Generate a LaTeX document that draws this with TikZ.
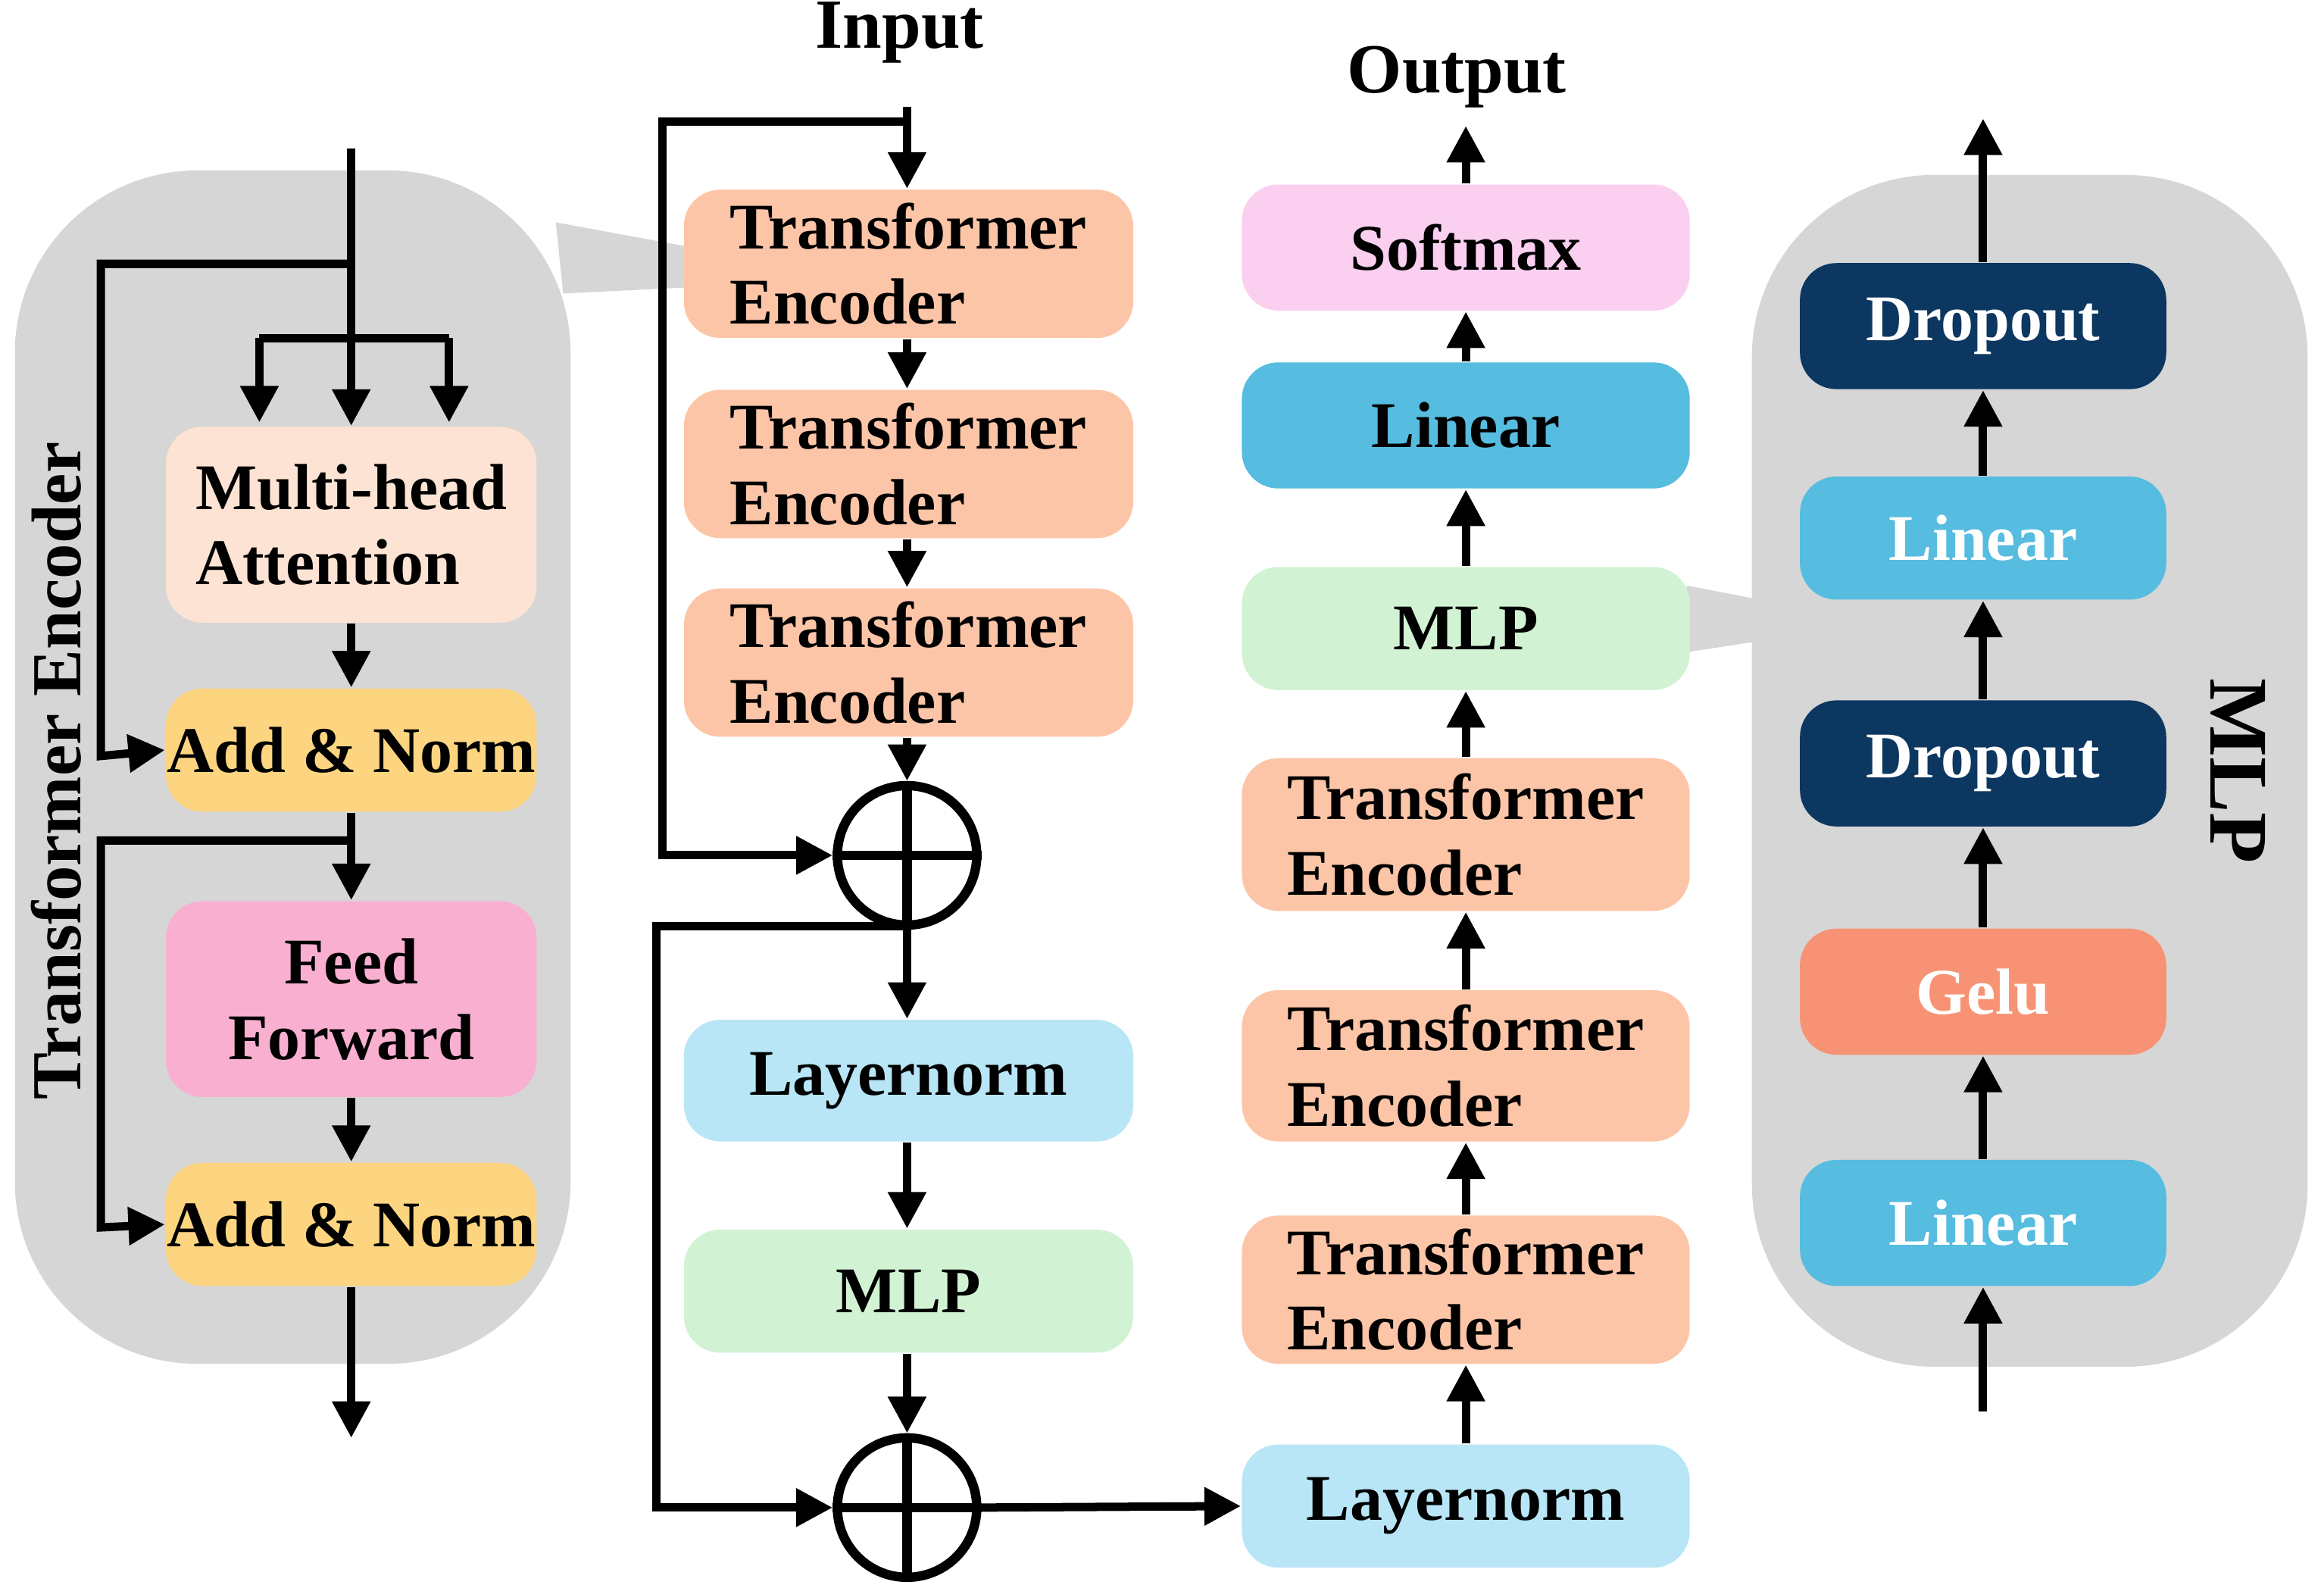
\documentclass[tikz,border=0pt]{standalone}
\usepackage{fontspec}
\setmainfont{Liberation Serif}
\usetikzlibrary{arrows.meta}
\definecolor{panel}{HTML}{D6D6D6}
\definecolor{mha}{HTML}{FDE3D3}
\definecolor{addn}{HTML}{FDD580}
\definecolor{ff}{HTML}{F9B0D0}
\definecolor{te}{HTML}{FDC5A8}
\definecolor{ln}{HTML}{B8E6F6}
\definecolor{mlp}{HTML}{D2F2D4}
\definecolor{lin}{HTML}{56BCE0}
\definecolor{sm}{HTML}{FBCFEF}
\definecolor{drop}{HTML}{0C3761}
\definecolor{gelu}{HTML}{F79374}
\begin{document}
\begin{tikzpicture}[x=0.01cm,y=-0.01cm,
  box/.style={draw=none,rounded corners=7pt,font=\fontsize{12.5}{14.5}\selectfont\bfseries,inner sep=0pt},
  arr/.style={-{Triangle[length=7pt,width=7pt]},line width=1.6pt},
  ln2/.style={line width=1.6pt},
  circ/.style={circle,draw,line width=1.8pt,minimum size=0.94cm,inner sep=0pt}]
\useasboundingbox (0,0) rectangle (1568,1071);
% panels and callouts
\fill[panel] (375,150) -- (462,166) -- (462,194) -- (380,198) -- cycle;
\fill[panel,rounded corners=35pt] (10,115) rectangle (385,920);
\fill[panel] (1138,395) -- (1190,405) -- (1190,432) -- (1138,440) -- cycle;
\fill[panel,rounded corners=35pt] (1182,118) rectangle (1557,922);
% left panel nodes
\def\bx#1#2#3#4#5#6#7{\node[box,fill=#6,minimum width=#3*0.01cm-#1*0.01cm,minimum height=#4*0.01cm-#2*0.01cm,#7] at ({(#1+#3)/2},{(#2+#4)/2}) {#5};}
\node[box,fill=mha,minimum width=2.5cm,minimum height=1.32cm,align=left] (mha) at (237,354) {Multi-head\\Attention};
\node[box,fill=addn,minimum width=2.5cm,minimum height=0.83cm] (an1) at (237,506) {Add \& Norm};
\node[box,fill=ff,minimum width=2.5cm,minimum height=1.32cm,align=center] (ff) at (237,674) {Feed\\Forward};
\node[box,fill=addn,minimum width=2.5cm,minimum height=0.83cm] (an2) at (237,826) {Add \& Norm};
\node[rotate=90,font=\fontsize{13.5}{15}\selectfont\bfseries] (lbl) at (38,520) {Transformer Encoder};
\coordinate (lin0) at (237,100);
\coordinate (lb) at (237,228);
\coordinate (lskip) at (237,178);
\draw[ln2] (lin0) -- (lb);
\draw[ln2] (175,228) -- (303,228);
\draw[arr] (175,228) -- (175,285);
\draw[arr] (lb) -- (mha.north);
\draw[arr] (303,228) -- (303,285);
\draw[arr] (lskip) -- (68,178) -- (68,510) -- (an1.west);
\draw[arr] (mha) -- (an1);
\draw[arr] (an1) -- (ff);
\draw[arr] (237,567) -- (68,567) -- (68,828) -- (an2.west);
\draw[arr] (ff) -- (an2);
\coordinate (lout) at (237,970);
\draw[arr] (an2) -- (lout);
% middle column
\node[font=\fontsize{13.5}{15}\selectfont\bfseries] (inp) at (607,22) {Input};
\node[box,fill=te,minimum width=3.03cm,minimum height=1cm,align=left] (t1) at (613,178) {Transformer\\Encoder};
\node[box,fill=te,minimum width=3.03cm,minimum height=1cm,align=left] (t2) at (613,313) {Transformer\\Encoder};
\node[box,fill=te,minimum width=3.03cm,minimum height=1cm,align=left] (t3) at (613,447) {Transformer\\Encoder};
\node[circ] (c1) at (612,577) {};
\draw[line width=1.8pt] (c1.north) -- (c1.south) (c1.west) -- (c1.east);
\node[box,fill=ln,minimum width=3.03cm,minimum height=0.82cm] (l1) at (613,729) {Layernorm};
\node[box,fill=mlp,minimum width=3.03cm,minimum height=0.83cm] (m1) at (613,871) {MLP};
\node[circ] (c2) at (612,1017) {};
\draw[line width=1.8pt] (c2.north) -- (c2.south) (c2.west) -- (c2.east);
\coordinate (ms) at (612,72);
\draw[arr] (ms) -- (t1.north -| ms);
\draw[arr] (612,82) -- (447,82) -- (447,577) -- (c1.west);
\draw[arr] (t1.south -| ms) -- (t2.north -| ms);
\draw[arr] (t2.south -| ms) -- (t3.north -| ms);
\draw[arr] (t3.south -| ms) -- (c1.north);
\draw[arr] (c1.south) -- (l1.north -| ms);
\draw[arr] (612,625) -- (443,625) -- (443,1017) -- (c2.west);
\draw[arr] (l1.south -| ms) -- (m1.north -| ms);
\draw[arr] (m1.south -| ms) -- (c2.north);
% right column
\node[box,fill=ln,minimum width=3.02cm,minimum height=0.83cm] (l2) at (989,1016) {Layernorm};
\node[box,fill=te,minimum width=3.02cm,minimum height=1cm,align=left] (r1) at (989,870) {Transformer\\Encoder};
\node[box,fill=te,minimum width=3.02cm,minimum height=1.02cm,align=left] (r2) at (989,719) {Transformer\\Encoder};
\node[box,fill=te,minimum width=3.02cm,minimum height=1.03cm,align=left] (r3) at (989,563) {Transformer\\Encoder};
\node[box,fill=mlp,minimum width=3.02cm,minimum height=0.83cm] (m2) at (989,424) {MLP};
\node[box,fill=lin,minimum width=3.02cm,minimum height=0.85cm] (li) at (989,287) {Linear};
\node[box,fill=sm,minimum width=3.02cm,minimum height=0.85cm] (so) at (989,167) {Softmax};
\node[font=\fontsize{13.5}{15}\selectfont\bfseries] (out) at (983,52) {Output};
\draw[arr] (c2.east) -- (l2.west);
\draw[arr] (l2) -- (r1);
\draw[arr] (r1) -- (r2);
\draw[arr] (r2) -- (r3);
\draw[arr] (r3) -- (m2);
\draw[arr] (m2) -- (li);
\draw[arr] (li) -- (so);
\draw[arr] (so.north) -- (989,85);
% MLP panel
\node[box,fill=lin,text=white,minimum width=2.47cm,minimum height=0.85cm] (p1) at (1338,825) {Linear};
\node[box,fill=gelu,text=white,minimum width=2.47cm,minimum height=0.85cm] (p2) at (1338,669) {Gelu};
\node[box,fill=drop,text=white,minimum width=2.47cm,minimum height=0.85cm] (p3) at (1338,515) {Dropout};
\node[box,fill=lin,text=white,minimum width=2.47cm,minimum height=0.83cm] (p4) at (1338,363) {Linear};
\node[box,fill=drop,text=white,minimum width=2.47cm,minimum height=0.85cm] (p5) at (1338,220) {Dropout};
\node[rotate=-90,font=\fontsize{16}{18}\selectfont\bfseries] (mlbl) at (1510,520) {MLP};
\coordinate (pin) at (1338,952);
\coordinate (pout) at (1338,80);
\draw[arr] (pin) -- (p1);
\draw[arr] (p1) -- (p2);
\draw[arr] (p2) -- (p3);
\draw[arr] (p3) -- (p4);
\draw[arr] (p4) -- (p5);
\draw[arr] (p5) -- (pout);
\end{tikzpicture}
\end{document}
